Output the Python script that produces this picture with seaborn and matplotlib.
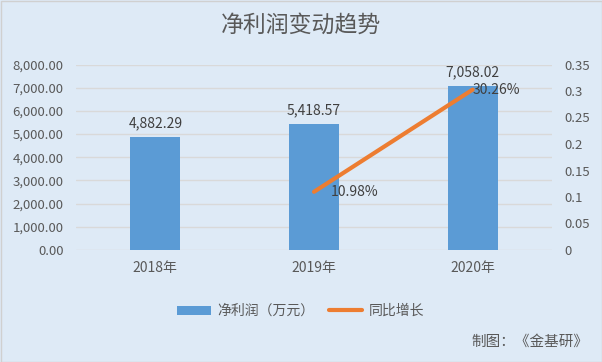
import matplotlib
matplotlib.use("Agg")
import matplotlib.pyplot as plt
import seaborn as sns
import numpy as np
import pandas as pd
from matplotlib.ticker import FuncFormatter, FixedLocator
from matplotlib.patches import Rectangle
from matplotlib.lines import Line2D
from matplotlib.patches import Patch

# ---- data ----
years = ["2018年", "2019年", "2020年"]
net_profit = [4882.29, 5418.57, 7058.02]          # 万元
yoy_growth = [np.nan, 0.1098, 0.3026]
growth_labels = ["", "10.98%", "30.26%"]
left_ticks = [0, 1000, 2000, 3000, 4000, 5000, 6000, 7000, 8000]
right_ticks = [0, 0.05, 0.1, 0.15, 0.2, 0.25, 0.3, 0.35]

title = "净利润变动趋势"
bar_name = "净利润（万元）"
line_name = "同比增长"
source = "制图：《金基研》"

sns.set_theme(style="white")
plt.rcParams["font.family"] = ["Noto Sans CJK SC", "DejaVu Sans"]

BG = "#DEEAF6"
BLUE = "#5B9BD5"
ORANGE = "#ED7D31"
TXT = "#595959"

df = pd.DataFrame({"year": years, "profit": net_profit, "growth": yoy_growth})

fig = plt.figure(figsize=(6.02, 3.62), dpi=100, facecolor=BG)
ax = fig.add_axes([76 / 602, 112 / 362, 476 / 602, 185.5 / 362])
ax.set_facecolor("none")

sns.barplot(data=df, x="year", y="profit", ax=ax, color=BLUE, width=0.315,
            saturation=1, order=years, linewidth=0, edgecolor="none")
ax.set_ylim(0, 8000)
ax.set_xlim(-0.5, 2.5)
ax.yaxis.set_major_locator(FixedLocator(left_ticks))
ax.yaxis.set_major_formatter(FuncFormatter(lambda v, p: f"{v:,.2f}"))
ax.grid(axis="y", color="#D9D9D9", linewidth=1)
ax.set_axisbelow(True)
for s in ax.spines.values():
    s.set_visible(False)
ax.set_xlabel("")
ax.set_ylabel("")
ax.tick_params(axis="y", labelsize=9.5, colors=TXT, length=0, pad=9)
ax.tick_params(axis="x", labelsize=10, colors=TXT, length=0, pad=8)
ax.bar_label(ax.containers[0], fmt="{:,.2f}", padding=5, fontsize=10, color="#404040")

ax2 = ax.twinx()
sns.pointplot(data=df, x="year", y="growth", ax=ax2, color=ORANGE, markers="",
              errorbar=None, order=years, lw=3)
ax2.set_ylim(0, 0.35)
ax2.yaxis.set_major_locator(FixedLocator(right_ticks))
ax2.yaxis.set_major_formatter(FuncFormatter(lambda v, p: f"{v:g}"))
ax2.tick_params(axis="y", labelsize=9.5, colors=TXT, length=0, pad=9)
for s in ax2.spines.values():
    s.set_visible(False)
ax2.set_xlabel("")
ax2.set_ylabel("")
ax2.grid(False)
ax2.set_xlim(-0.5, 2.5)

offsets = [0, 12, 0]
for i, (g, lab) in enumerate(zip(yoy_growth, growth_labels)):
    if lab:
        ax2.annotate(lab, (i, g), xytext=(offsets[i], 0), textcoords="offset points",
                     ha="left", va="center", fontsize=10, color="#404040")

fig.text(0.5, 1 - 25 / 362, title, ha="center", va="center", fontsize=16.5, color=TXT)

handles = [Patch(facecolor=BLUE, edgecolor="none"),
           Line2D([0], [0], color=ORANGE, lw=3)]
fig.legend(handles, [bar_name, line_name], loc="center", bbox_to_anchor=(0.5, 1 - 311 / 362),
           ncol=2, frameon=False, fontsize=10, labelcolor=TXT, handlelength=2.4,
           handleheight=0.6, columnspacing=1.0, handletextpad=0.5)

fig.text(588 / 602, 1 - 342 / 362, source, ha="right", va="center", fontsize=10.5, color=TXT)

fig.patches.append(Rectangle((0.5 / 602, 0.5 / 362), 601 / 602, 361 / 362,
                             transform=fig.transFigure, fill=False,
                             edgecolor="#D0D0D0", linewidth=1))

fig.savefig("out.png", dpi=100, facecolor=BG)
